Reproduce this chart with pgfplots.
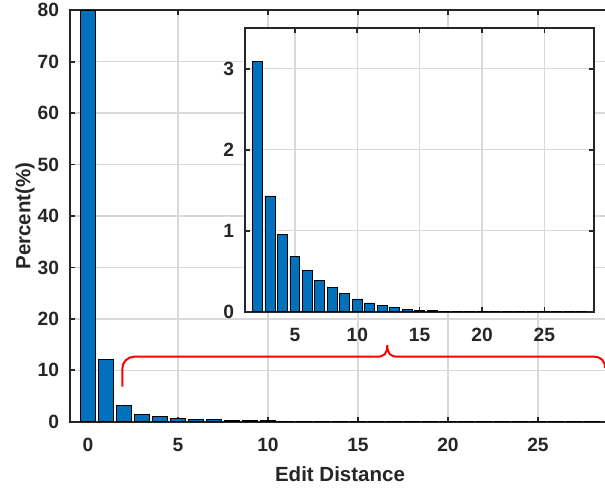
\documentclass[border=0pt]{standalone}
\usepackage{pgfplots}
\usepackage{pgfplotstable}
\pgfplotsset{compat=1.18}
\usepackage{fontspec}
\setmainfont{Liberation Sans}
\definecolor{mblue}{RGB}{0,114,189}
\definecolor{axc}{gray}{0.15}

\pgfplotstableread{
x y
0 80
1 12.1
2 3.09
3 1.43
4 0.95
5 0.68
6 0.51
7 0.39
8 0.30
9 0.22
10 0.157
11 0.108
12 0.074
13 0.047
14 0.031
15 0.020
16 0.013
17 0.008
18 0.005
19 0.003
20 0.002
21 0.0015
22 0.001
23 0.0008
24 0.0005
25 0.0003
26 0.0002
27 0.0001
28 0.0001
}\maindata

\pgfplotstableread{
x y
2 3.09
3 1.43
4 0.95
5 0.68
6 0.51
7 0.39
8 0.30
9 0.22
10 0.157
11 0.108
12 0.074
13 0.047
14 0.031
15 0.020
16 0.013
17 0.008
18 0.005
19 0.003
20 0.002
21 0.0015
22 0.001
23 0.0008
24 0.0005
25 0.0003
26 0.0002
27 0.0001
28 0.0001
}\insetdata

\pgfplotsset{
  mystyle/.style={
    scale only axis,
    axis line style={axc, line width=1pt},
    tick style={axc, line width=0.8pt},
    tick align=inside,
    major tick length=2.5pt,
    grid=major,
    grid style={black!15, line width=0.7pt},
    /pgf/number format/assume math mode=true,
    ticklabel style={font=\fontsize{9.6}{11}\selectfont\bfseries, text=axc},
    xticklabel style={anchor=base, yshift=-15pt},
    yticklabel style={xshift=-2pt},
    label style={font=\fontsize{10.25}{12}\selectfont\bfseries, text=axc},
  }
}

\begin{document}
\begin{tikzpicture}
\begin{axis}[mystyle,
  at={(35pt,33.15pt)}, anchor=south west,
  width=270pt, height=205.7pt,
  xmin=-1, xmax=29, ymin=0, ymax=80,
  xtick={0,5,...,25}, ytick={0,10,...,80},
  xlabel={Edit Distance}, ylabel={Percent(\%)},
  xlabel style={at={(axis description cs:0.5,0)}, anchor=base, yshift=-30pt},
  ylabel style={at={(axis description cs:-0.0833,0.5)}, anchor=center},
]
\addplot[ybar, bar width=0.8, fill=mblue, draw=black, line width=0.4pt] table[x=x,y=y] {\maindata};
\end{axis}

\begin{axis}[mystyle,
  at={(122.5pt,88.15pt)}, anchor=south west,
  width=174.65pt, height=141.7pt,
  axis background/.style={fill=white},
  xmin=1, xmax=29, ymin=0, ymax=3.5,
  xtick={5,10,...,25}, ytick={0,1,2,3},
]
\addplot[ybar, bar width=0.8, fill=mblue, draw=black, line width=0.4pt] table[x=x,y=y] {\insetdata};
\end{axis}

\draw[red, line width=1pt] (61.15pt,50.65pt) -- (61.15pt,59.65pt)
  arc[start angle=180, end angle=90, radius=6pt]
  -- (188.35pt,65.65pt)
  .. controls (192pt,65.65pt) and (193.65pt,67pt) .. (193.65pt,71.5pt)
  .. controls (193.65pt,67pt) and (195.3pt,65.65pt) .. (199pt,65.65pt)
  -- (297pt,65.65pt)
  .. controls (300pt,65.65pt) and (302.5pt,64pt) .. (302.5pt,60pt);

\pgfresetboundingbox
\useasboundingbox (0,0) rectangle (302.5pt,244pt);
\end{tikzpicture}
\end{document}
